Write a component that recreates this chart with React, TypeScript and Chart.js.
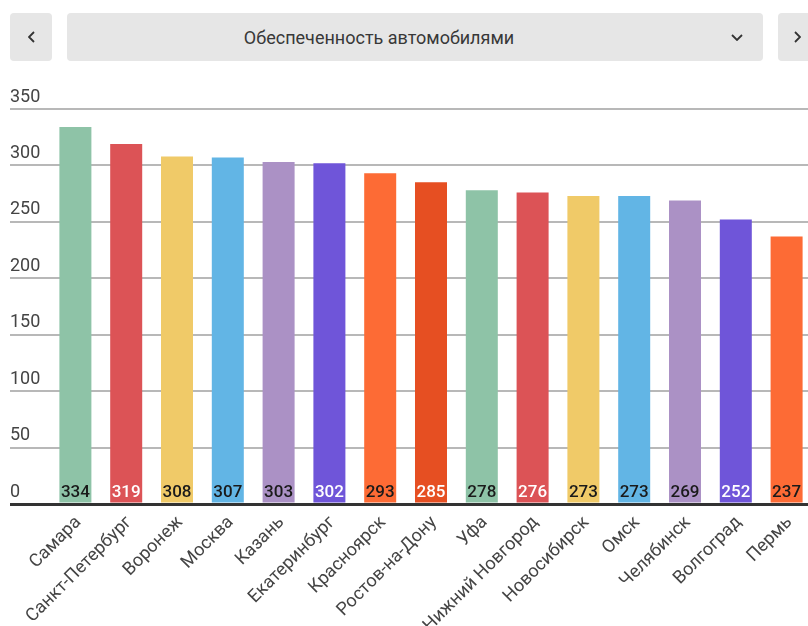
import React, { useEffect, useRef } from "react";
import { Chart, registerables } from "chart.js";

Chart.register(...registerables);

const title = "Обеспеченность автомобилями";

const categories = [
  "Самара",
  "Санкт-Петербург",
  "Воронеж",
  "Москва",
  "Казань",
  "Екатеринбург",
  "Красноярск",
  "Ростов-на-Дону",
  "Уфа",
  "Нижний Новгород",
  "Новосибирск",
  "Омск",
  "Челябинск",
  "Волгоград",
  "Пермь",
];

const values = [334, 319, 308, 307, 303, 302, 293, 285, 278, 276, 273, 273, 269, 252, 237];

const barColors = [
  "#8ec3a7",
  "#dc5356",
  "#f0ca68",
  "#62b5e5",
  "#ab91c5",
  "#6f55d9",
  "#fd6b35",
  "#e64f22",
  "#8ec3a7",
  "#dc5356",
  "#f0ca68",
  "#62b5e5",
  "#ab91c5",
  "#6f55d9",
  "#fd6b35",
];

const valueLabelColors = [
  "#1a1a1a",
  "#ffffff",
  "#1a1a1a",
  "#1a1a1a",
  "#1a1a1a",
  "#ffffff",
  "#1a1a1a",
  "#ffffff",
  "#1a1a1a",
  "#ffffff",
  "#1a1a1a",
  "#1a1a1a",
  "#1a1a1a",
  "#ffffff",
  "#1a1a1a",
];

const yMin = 0;
const yMax = 350;
const yStep = 50;

const FONT = "Roboto, 'Noto Sans', sans-serif";

const valueLabelPlugin = {
  id: "valueLabels",
  afterDatasetsDraw(chart: any) {
    const ctx = chart.ctx;
    const meta = chart.getDatasetMeta(0);
    ctx.save();
    ctx.font = `500 17px ${FONT}`;
    ctx.textAlign = "center";
    ctx.textBaseline = "alphabetic";
    meta.data.forEach((bar: any, i: number) => {
      ctx.fillStyle = valueLabelColors[i];
      ctx.fillText(String(values[i]), bar.x, bar.base - 6);
    });
    ctx.restore();
  },
};

function Chevron({ dir }: { dir: "left" | "right" | "down" }) {
  const pts =
    dir === "left" ? "6,1 1,6 6,11" : dir === "right" ? "1,1 6,6 1,11" : "1,1 6,6 11,1";
  const w = dir === "down" ? 12 : 7;
  const h = dir === "down" ? 7 : 12;
  return (
    <svg width={w} height={h} viewBox={`0 0 ${w} ${h}`} style={{ display: "block" }}>
      <polyline points={pts} fill="none" stroke="#333" strokeWidth={1.8} />
    </svg>
  );
}

export default function App() {
  const canvasRef = useRef<HTMLCanvasElement | null>(null);

  useEffect(() => {
    if (!canvasRef.current) return;
    const chart = new Chart(canvasRef.current, {
      type: "bar",
      data: {
        labels: categories,
        datasets: [
          {
            data: values,
            backgroundColor: barColors,
            borderWidth: 0,
            categoryPercentage: 1,
            barPercentage: 0.63,
          },
        ],
      },
      options: {
        responsive: false,
        animation: false,
        devicePixelRatio: 1,
        layout: { padding: { left: 10, top: 109, right: 0, bottom: 0 } },
        plugins: {
          legend: { display: false },
          tooltip: { enabled: false },
        },
        scales: {
          x: {
            grid: { display: false },
            border: { display: false },
            ticks: {
              autoSkip: false,
              minRotation: 45,
              maxRotation: 45,
              color: "#444",
              font: { family: FONT, size: 18 },
              padding: 0,
              labelOffset: 3,
            },
            afterFit: (scale: any) => {
              scale.height = 162;
            },
          },
          y: {
            min: yMin,
            max: yMax,
            border: { display: false },
            grid: {
              drawTicks: true,
              tickLength: 40,
              color: (c: any) => (c.tick && c.tick.value === 0 ? "#333" : "#b8b8b8"),
              lineWidth: (c: any) => (c.tick && c.tick.value === 0 ? 3 : 2),
            },
            ticks: {
              stepSize: yStep,
              crossAlign: "far",
              labelOffset: -12,
              padding: 0,
              color: "#444",
              font: { family: FONT, size: 18 },
            },
            afterFit: (scale: any) => {
              scale.width = 40;
            },
          },
        },
      },
      plugins: [valueLabelPlugin],
    } as any);
    return () => chart.destroy();
  }, []);

  const btn: React.CSSProperties = {
    position: "absolute",
    top: 13,
    height: 48,
    background: "#e6e6e6",
    borderRadius: 4,
    display: "flex",
    alignItems: "center",
    justifyContent: "center",
  };

  return (
    <div
      style={{
        position: "fixed",
        left: 0,
        top: 0,
        width: 808,
        height: 626,
        overflow: "hidden",
        background: "#fff",
        fontFamily: FONT,
      }}
    >
      <canvas
        ref={canvasRef}
        width={812}
        height={666}
        style={{ position: "absolute", left: 0, top: 0, width: 812, height: 666 }}
      />
      <div style={{ ...btn, left: 10, width: 42 }}>
        <Chevron dir="left" />
      </div>
      <div style={{ ...btn, left: 67, width: 696 }}>
        <span
          style={{
            position: "absolute",
            left: 312,
            transform: "translateX(-50%)",
            whiteSpace: "nowrap",
            fontSize: 18,
            fontWeight: 400,
            color: "#383838",
          }}
        >
          {title}
        </span>
        <div style={{ position: "absolute", left: 664 }}>
          <Chevron dir="down" />
        </div>
      </div>
      <div style={{ ...btn, left: 778, width: 42 }}>
        <div style={{ position: "absolute", left: 16 }}>
          <Chevron dir="right" />
        </div>
      </div>
    </div>
  );
}
